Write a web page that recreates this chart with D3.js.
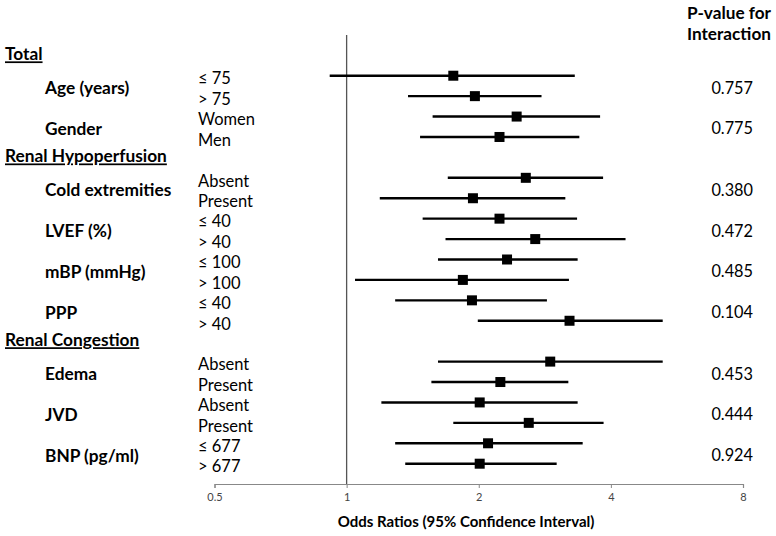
<!DOCTYPE html>
<html><head><meta charset="utf-8">
<script src="https://cdn.jsdelivr.net/npm/d3@7/dist/d3.min.js"></script>
<style>body{margin:0;background:#fff}</style>
</head><body>
<svg id="c" width="776" height="536"></svg>
<script>
const headers = [
  {row: 0, label: "Total"},
  {row: 5, label: "Renal Hypoperfusion"},
  {row: 14, label: "Renal Congestion"}
];
const subgroups = [
  {row: 1, label: "Age (years)", p: "0.757"},
  {row: 3, label: "Gender", p: "0.775"},
  {row: 6, label: "Cold extremities", p: "0.380"},
  {row: 8, label: "LVEF (%)", p: "0.472"},
  {row: 10, label: "mBP (mmHg)", p: "0.485"},
  {row: 12, label: "PPP", p: "0.104"},
  {row: 15, label: "Edema", p: "0.453"},
  {row: 17, label: "JVD", p: "0.444"},
  {row: 19, label: "BNP (pg/ml)", p: "0.924"}
];
const levelRows = [1,2,3,4,6,7,8,9,10,11,12,13,15,16,17,18,19,20];
const levelLabels = ["≤ 75","> 75","Women","Men","Absent","Present","≤ 40","> 40","≤ 100","> 100","≤ 40","> 40","Absent","Present","Absent","Present","≤ 677","> 677"];
const orValues = [1.75,1.96,2.44,2.23,2.56,1.94,2.23,2.69,2.32,1.84,1.93,3.22,2.91,2.24,2.01,2.60,2.10,2.01];
const lowerCI  = [0.915,1.38,1.57,1.47,1.70,1.19,1.49,1.68,1.615,1.045,1.29,1.99,1.615,1.56,1.20,1.75,1.29,1.36];
const upperCI  = [3.31,2.78,3.78,3.39,3.84,3.15,3.35,4.32,3.36,3.21,2.86,5.25,5.25,3.20,3.36,3.85,3.45,3.01];
const xTicks = [0.5,1,2,4,8];

const svg = d3.select("#c");
const font = "Lato, 'Open Sans', sans-serif";
const x = d3.scaleLog().base(2).domain([0.5, 8]).range([214.5, 743]);
const y = d3.scaleLinear().domain([0, 20]).range([55.3, 463.7]);
const axisY = 484;

svg.append("line").attr("x1", x(1)).attr("x2", x(1)).attr("y1", 35).attr("y2", axisY)
  .attr("stroke", "#555").attr("stroke-width", 1.3);

const axis = d3.axisBottom(x).tickValues(xTicks).tickFormat(d3.format("")).tickSizeOuter(0).tickSize(4);
const ag = svg.append("g").attr("transform", `translate(0,${axisY})`).call(axis);
ag.select(".domain").attr("stroke", "#888").attr("stroke-width", 1.2);
ag.selectAll(".tick line").attr("stroke", "#888");
ag.selectAll(".tick text").attr("font-family", font).attr("font-size", 11).attr("fill", "#444").attr("dy", "0.9em");

svg.append("text").attr("x", 466).attr("y", 527).attr("text-anchor", "middle")
  .attr("font-family", font).attr("font-weight", "bold").attr("font-size", 15).text("Odds Ratios (95% Confidence Interval)");

const d = levelRows.map((r, i) => ({r, lab: levelLabels[i], or: orValues[i], lo: lowerCI[i], hi: upperCI[i]}));
svg.selectAll(".ci").data(d).join("line")
  .attr("x1", e => x(e.lo)).attr("x2", e => x(e.hi))
  .attr("y1", e => y(e.r)).attr("y2", e => y(e.r))
  .attr("stroke", "#000").attr("stroke-width", 2.4);
svg.selectAll(".sq").data(d).join("rect")
  .attr("x", e => x(e.or) - 5).attr("y", e => y(e.r) - 5)
  .attr("width", 10).attr("height", 10).attr("fill", "#000");

svg.selectAll(".lv").data(d).join("text")
  .attr("x", 198).attr("y", e => y(e.r) + 3).attr("dy", "0.35em")
  .attr("font-family", font).attr("font-size", 16.5).attr("fill", "#000").text(e => e.lab);

svg.selectAll(".hd").data(headers).join("text")
  .attr("x", 5).attr("y", e => y(e.row) - 1).attr("dy", "0.35em")
  .attr("font-family", font).attr("font-weight", "bold").attr("font-size", 17.3)
  .attr("text-decoration", "underline").text(e => e.label);

svg.selectAll(".sg").data(subgroups).join("text")
  .attr("x", 45).attr("y", e => (y(e.row) + y(e.row + 1)) / 2 + 2).attr("dy", "0.35em")
  .attr("font-family", font).attr("font-weight", "bold").attr("font-size", 17.3).text(e => e.label);

svg.selectAll(".pv").data(subgroups).join("text")
  .attr("x", 753).attr("y", e => (y(e.row) + y(e.row + 1)) / 2 + 2).attr("dy", "0.35em")
  .attr("text-anchor", "end").attr("font-family", font).attr("font-size", 16.3).text(e => e.p);

svg.append("text").attr("x", 729).attr("y", 13).attr("dy", "0.35em").attr("text-anchor", "middle")
  .attr("font-family", font).attr("font-weight", "bold").attr("font-size", 17.2).text("P-value for");
svg.append("text").attr("x", 729).attr("y", 34).attr("dy", "0.35em").attr("text-anchor", "middle")
  .attr("font-family", font).attr("font-weight", "bold").attr("font-size", 17.2).text("Interaction");
</script>
</body></html>
